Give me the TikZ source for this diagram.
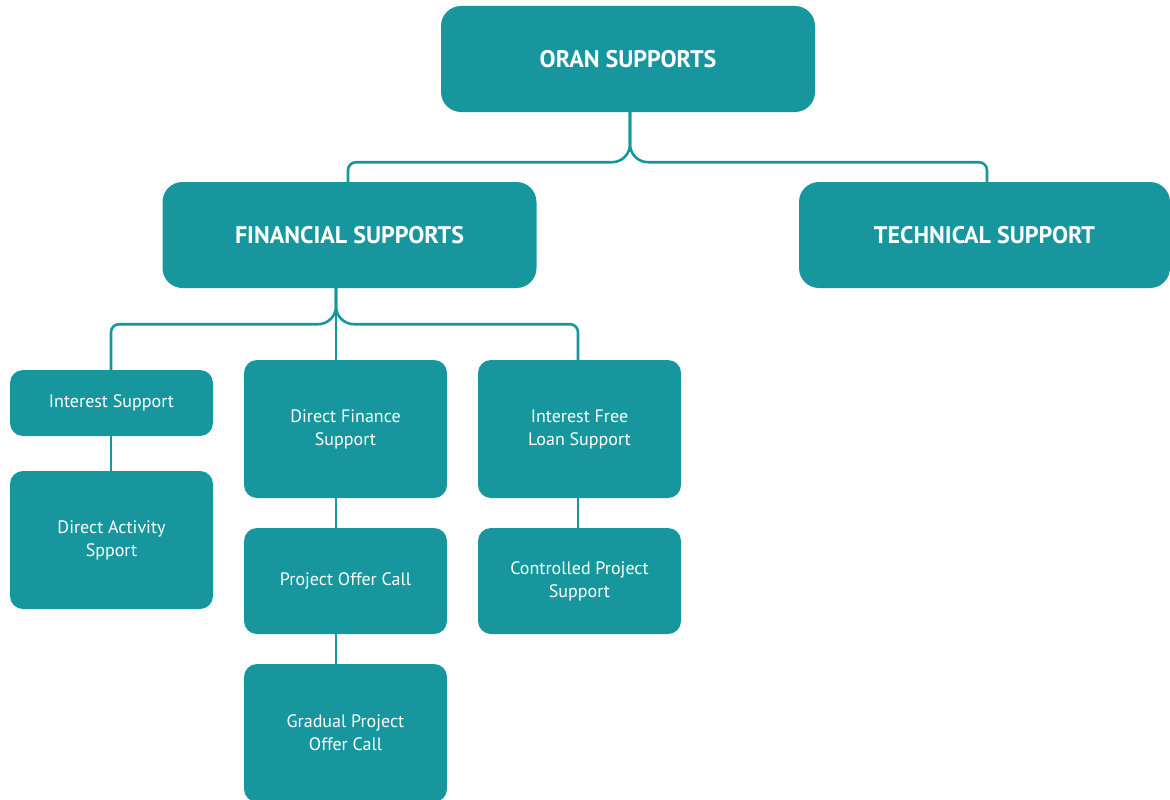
\documentclass[tikz,border=0pt]{standalone}
\usepackage{fontspec}
\setmainfont{PT Sans}
\definecolor{teal1}{HTML}{17969E}
\begin{document}
\begin{tikzpicture}[x=1pt,y=1pt,
  bigbox/.style={fill=teal1, draw=none, rounded corners=20pt, text=white,
    font=\fontsize{24}{28}\selectfont\bfseries, minimum width=374pt, minimum height=106pt,
    inner sep=0pt, align=center},
  smallbox/.style={fill=teal1, draw=none, rounded corners=13pt, text=white,
    font=\fontsize{18}{23}\selectfont, minimum width=203pt, inner sep=0pt,
    align=center},
  conn/.style={draw=teal1, line width=2.6pt}
]
\useasboundingbox (0,0) rectangle (1170,-800);
% main boxes
\node[bigbox] (oran) at (628,-59) {ORAN SUPPORTS};
\node[bigbox] (fin) at (349.5,-235) {FINANCIAL SUPPORTS};
\node[bigbox, minimum width=371pt] (tech) at (984.5,-235) {TECHNICAL SUPPORT};
% small boxes
\node[smallbox, minimum height=66pt] (is) at (111.5,-403) {Interest Support};
\node[smallbox, minimum height=138pt] (das) at (111.5,-540) {Direct Activity\\Spport};
\node[smallbox, minimum height=138pt] (dfs) at (345.5,-429) {Direct Finance\\Support};
\node[smallbox, minimum height=106pt] (poc) at (345.5,-581) {Project Offer Call};
\node[smallbox, minimum height=138pt] (gpoc) at (345.5,-733) {Gradual Project\\Offer Call};
\node[smallbox, minimum height=138pt] (ifl) at (579.5,-429) {Interest Free\\Loan Support};
\node[smallbox, minimum height=106pt] (cps) at (579.5,-581) {Controlled Project\\Support};
% named coordinates
\coordinate (o0) at ([xshift=2pt]oran.south);
\coordinate (f0) at ([xshift=-13.5pt]fin.south);
% connectors from ORAN
\draw[conn] (o0) -- ++(0,-32) arc[start angle=0, end angle=-90, radius=18]
  [rounded corners=8pt] -| ([xshift=-1.5pt]fin.north);
\draw[conn] (o0) -- ++(0,-32) arc[start angle=180, end angle=270, radius=18]
  [rounded corners=8pt] -| ([xshift=2.5pt]tech.north);
% connectors from FINANCIAL
\draw[conn] (f0) -- ++(0,-18) arc[start angle=0, end angle=-90, radius=18]
  [rounded corners=8pt] -| ([xshift=-0.5pt]is.north);
\draw[conn] (f0) -- ++(0,-18) arc[start angle=180, end angle=270, radius=18]
  [rounded corners=8pt] -| ([xshift=-1.5pt]ifl.north);
\draw[conn] (f0) -- (f0 |- dfs.north);
% vertical chains
\draw[conn] ([xshift=-0.5pt]is.south) -- ([xshift=-0.5pt]das.north);
\draw[conn] (dfs.south -| f0) -- (poc.north -| f0);
\draw[conn] (poc.south -| f0) -- (gpoc.north -| f0);
\draw[conn] ([xshift=-1.5pt]ifl.south) -- ([xshift=-1.5pt]cps.north);
\end{tikzpicture}
\end{document}
